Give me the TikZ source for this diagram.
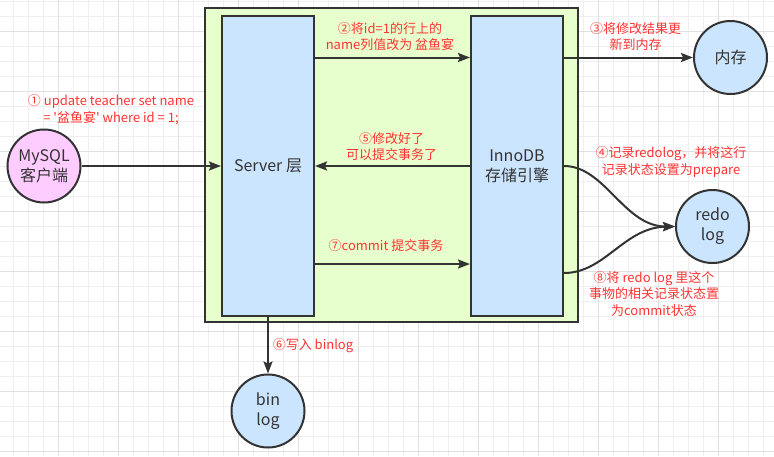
\documentclass[tikz,border=0pt]{standalone}
\usepackage{fontspec}
\setmainfont{Noto Sans CJK SC}[Ligatures=TeXOff]
\usepackage{tikz}
\usetikzlibrary{arrows.meta,positioning}
\definecolor{panelgreen}{HTML}{E6FFCC}
\definecolor{layerblue}{HTML}{CCE5FF}
\definecolor{clientpink}{HTML}{FFCCFF}
\definecolor{darkline}{HTML}{333333}
\definecolor{notered}{HTML}{FF3333}
\definecolor{gridminor}{HTML}{EFEFEF}
\definecolor{gridmajor}{HTML}{E0E0E0}

\begin{document}
\begin{tikzpicture}[x=1pt,y=-1pt,>={Stealth[length=12pt,width=9pt,inset=2pt]},line width=2pt,
    layer/.style={rectangle,draw=darkline,fill=layerblue,minimum width=92pt,minimum height=300pt,
      text=darkline,align=center,font=\fontsize{16}{20}\selectfont},
    store/.style={circle,draw=darkline,fill=layerblue,minimum size=73pt,inner sep=0pt,
      text=darkline,align=center,font=\fontsize{16}{20}\selectfont},
    note/.style={text=notered,align=center,font=\fontsize{13}{16.5}\selectfont}]
\fill[white] (0,0) rectangle (774,456);
\useasboundingbox (0,0) rectangle (774,456);
% grid
\foreach \gx in {13,28,...,773} \draw[gridminor,line width=1pt] (\gx,0) -- (\gx,456);
\foreach \gy in {1,16,...,455} \draw[gridminor,line width=1pt] (0,\gy) -- (774,\gy);
\foreach \gx in {58,118,...,773} \draw[gridmajor,line width=1pt] (\gx,0) -- (\gx,456);
\foreach \gy in {31,91,...,455} \draw[gridmajor,line width=1pt] (0,\gy) -- (774,\gy);

\node[rectangle,draw=darkline,fill=panelgreen,minimum width=373pt,minimum height=314pt] (engine) at (391.5,165) {};
\node[layer] (server) at (268,166) {Server 层};
\node[layer] (inno) at (517,166) {InnoDB\\存储引擎};
\node[store,fill=clientpink] (client) at (44,166) {MySQL\\客户端};
\node[store] (mem) at (730.5,57.5) {内存};
\node[store] (redo) at (712.5,226.5) {redo\\log};
\node[store] (binlog) at (268,411) {bin\\log};
\coordinate (c7) at (0,264);
\coordinate (c8) at (0,273);

\path[->,color=darkline]
(client) edge (client -| server.west)
(server.east |- mem) edge (inno.west |- mem)
(inno.east |- mem) edge (mem)
(inno) edge (server)
(server.east |- c7) edge (inno.west |- c7)
(server) edge (binlog)
;
\draw[->,darkline] (inno.east) .. controls +(41,0) and +(-51,0) .. (redo.west);
\draw[->,darkline] (inno.east |- c8) .. controls +(41,0) and +(-51,1) .. (redo.west);

\node[note] (n1) at (111,109.5) {① update teacher set name\\= '盆鱼宴' where id = 1;};
\node[note] (n2) at (390,36.5) {②将id=1的行上的\\name列值改为 盆鱼宴};
\node[note] (n3) at (635.5,36.5) {③将修改结果更\\新到内存};
\node[note] (n4) at (671,162) {④记录redolog，并将这行\\记录状态设置为prepare};
\node[note] (n5) at (391.5,146.8) {⑤修改好了\\可以提交事务了};
\node[note] (n6) at (313,346) {⑥写入 binlog};
\node[note] (n7) at (386,246) {⑦commit 提交事务};
\node[note] (n8) at (654,294) {⑧将 redo log 里这个\\事物的相关记录状态置\\为commit状态};

\end{tikzpicture}
\end{document}
